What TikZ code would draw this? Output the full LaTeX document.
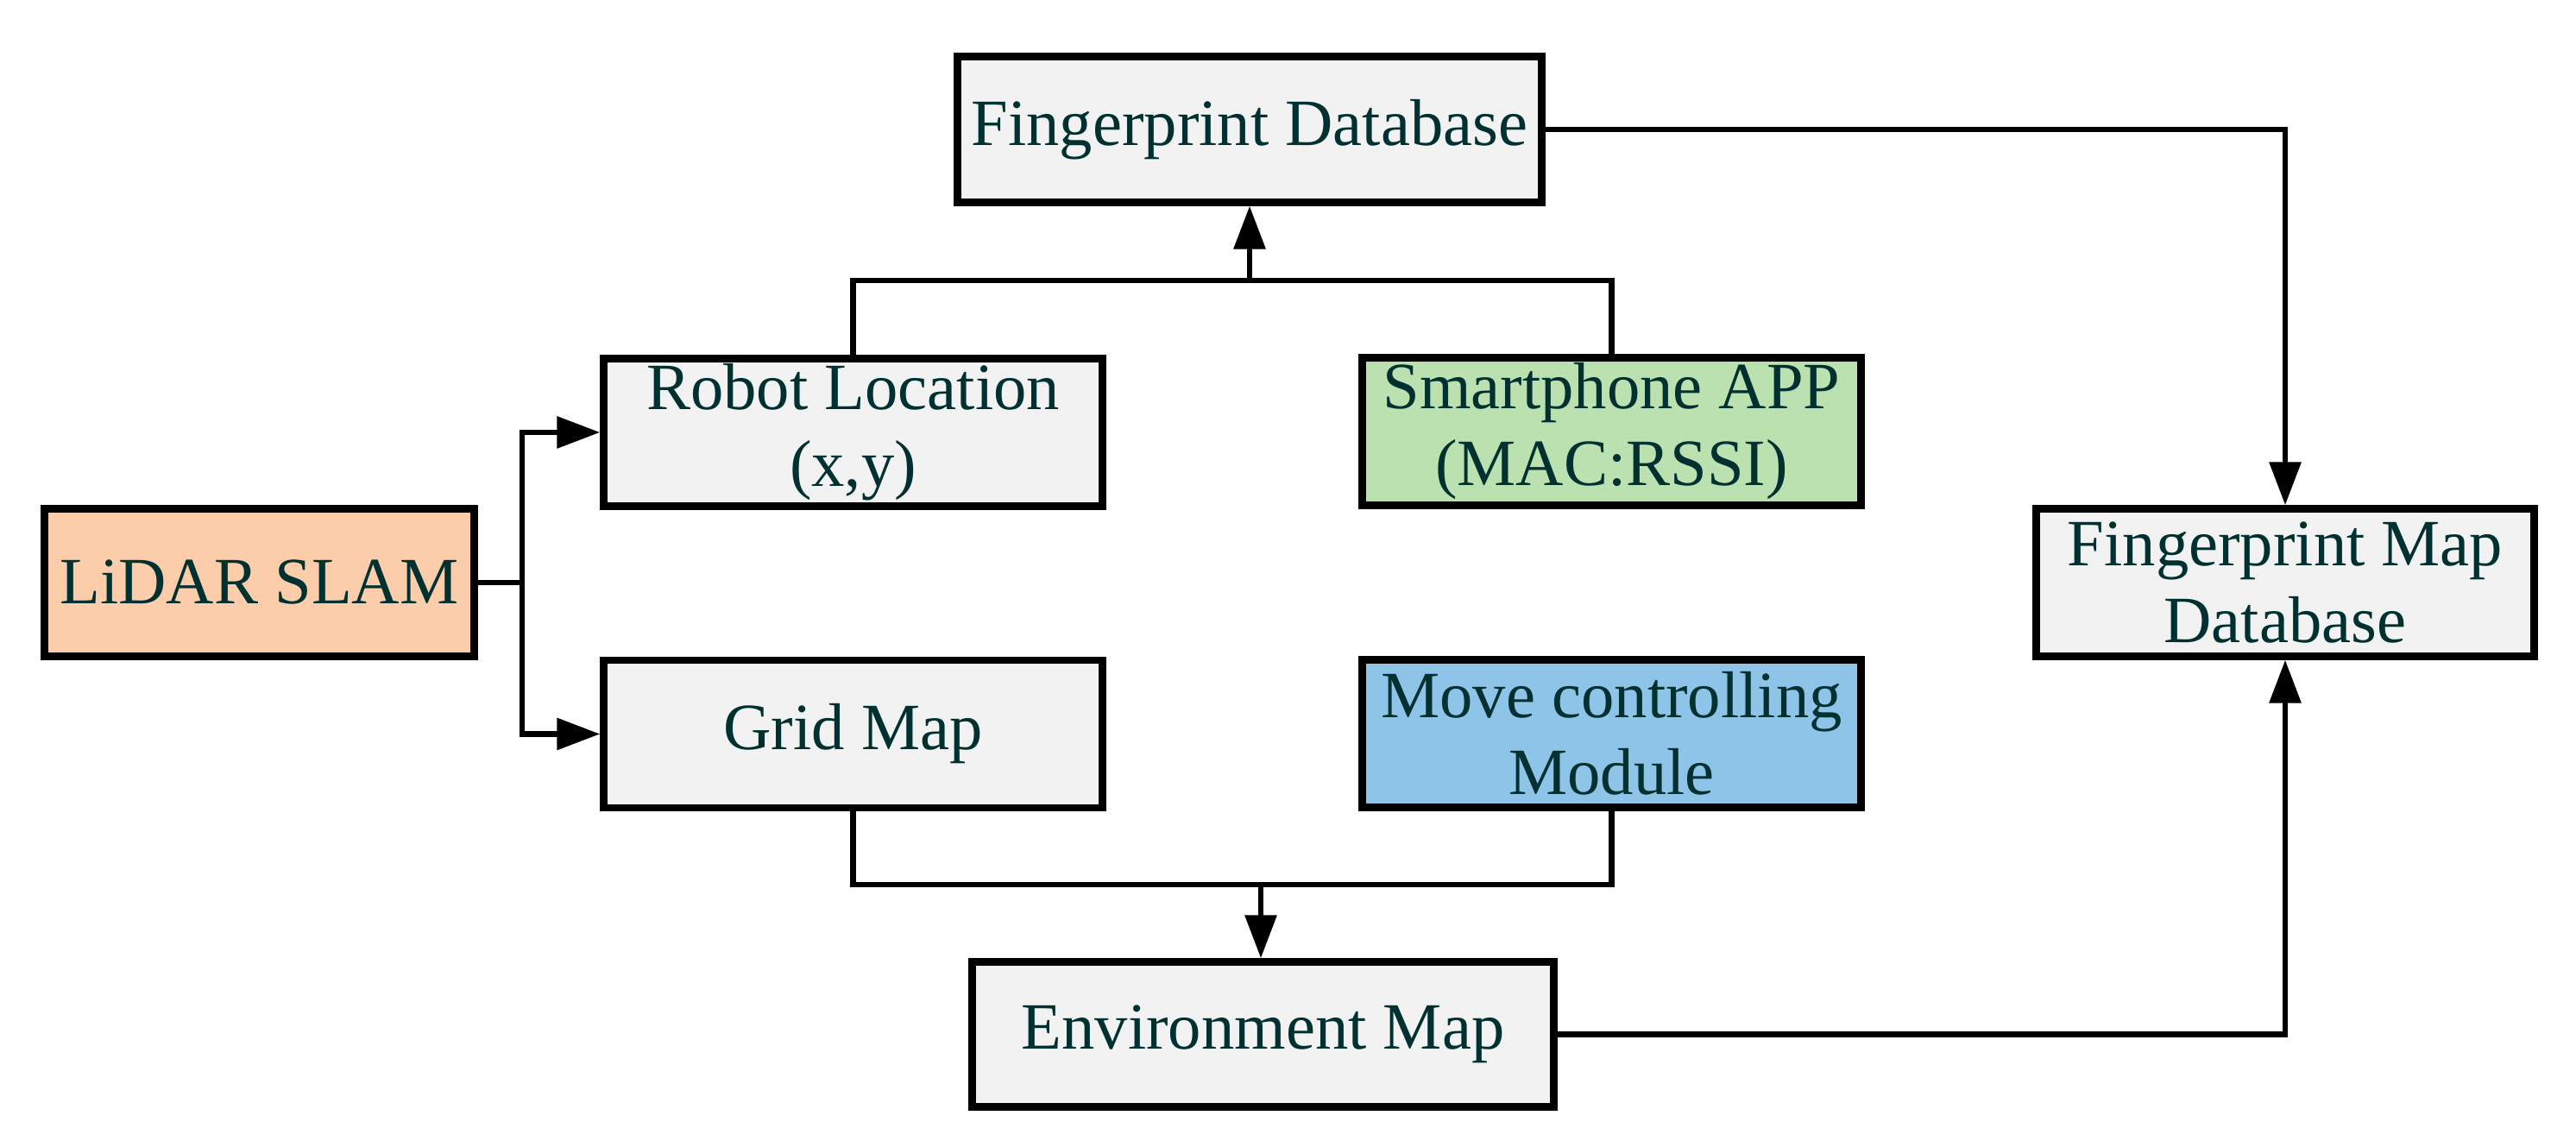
\documentclass[tikz,border=0pt]{standalone}
\usepackage{fontspec}
\setmainfont{Liberation Serif}
\usetikzlibrary{arrows.meta}

\definecolor{txtcol}{RGB}{0,48,48}
\definecolor{boxgray}{RGB}{242,242,242}
\definecolor{peach}{RGB}{251,205,170}
\definecolor{leafgreen}{RGB}{187,225,177}
\definecolor{skyblue}{RGB}{141,196,231}

\begin{document}
\begin{tikzpicture}
        [block/.style={draw=black, line width=2.4pt, fill=boxgray, text=txtcol, align=center,
            inner sep=0pt, minimum width=5.78cm, minimum height=1.71cm,
            font=\fontsize{21.8}{25.3}\selectfont},
        link/.style={black, line width=1.8pt},
        arrow/.style={link, -{Triangle[length=0.5cm, width=0.36cm]}}]

        \useasboundingbox (0,0) rectangle (29.85,13.29);

        \node[block, minimum width=6.77cm, minimum height=1.69cm] (fpdb) at (14.48,11.79) {Fingerprint Database};
        \node[block] (robot) at (9.885,8.28) {Robot Location\\(x,y)};
        \node[block, fill=leafgreen] (phone) at (18.675,8.29) {Smartphone APP\\(MAC:RSSI)};
        \node[block, fill=peach, minimum width=4.98cm] (lidar) at (3.005,6.54) {LiDAR SLAM};
        \node[block] (grid) at (9.885,4.785) {Grid Map};
        \node[block, fill=skyblue] (move) at (18.675,4.79) {Move controlling\\Module};
        \node[block, minimum width=6.74cm, minimum height=1.68cm] (env) at (14.635,1.305) {Environment Map};
        \node[block, minimum width=5.77cm] (fpmap) at (26.48,6.54) {Fingerprint Map\\Database};

        % branch points
        \coordinate (split) at (6.05,6.54);
        \coordinate (top) at (14.48,10.04);
        \coordinate (bot) at (14.61,3.04);

        % LiDAR SLAM outputs
        \draw[link] (lidar.east) -- (split);
        \draw[arrow] (split) |- (robot.west);
        \draw[arrow] (split) |- (grid.west);

        % location + RSSI into the fingerprint database
        \draw[link] (robot.north) |- (top) -| (phone.north);
        \draw[arrow] (top) -- (fpdb.south);

        % grid map + movement into the environment map
        \draw[link] (grid.south) |- (bot) -| (move.south);
        \draw[arrow] (bot) -- (bot |- env.north);

        % both feed the fingerprint map database
        \draw[arrow] (fpdb.east) -| (fpmap.north);
        \draw[arrow] (env.east) -| (fpmap.south);

        \end{tikzpicture}
\end{document}
